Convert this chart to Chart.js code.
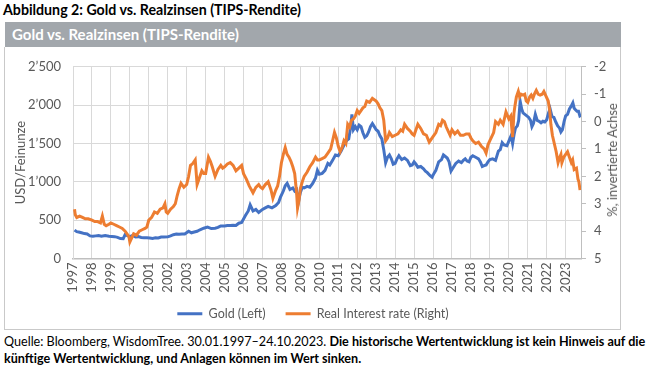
<!DOCTYPE html>
<html>
<head>
<meta charset="utf-8">
<script src="https://cdn.jsdelivr.net/npm/chart.js@4.4.0/dist/chart.umd.min.js"></script>
<style>
  html, body { margin:0; padding:0; background:#fff; }
  body { width:650px; height:368px; position:relative; overflow:hidden; font-family: Lato, "Liberation Sans", sans-serif; }
  #t1 { position:absolute; left:3px; top:1px; font-weight:bold; font-size:14.2px; color:#000; white-space:nowrap; }
  #banner { position:absolute; left:5px; top:22px; width:616px; height:25px; background:#a2a7ac; color:#fff; font-weight:bold; font-size:15px; line-height:25px; padding-left:7px; box-sizing:border-box; white-space:nowrap; }
  #box { position:absolute; left:4px; top:47px; width:617px; height:283px; border:1px solid #c9c9c9; border-top:none; box-sizing:border-box; }
  #wrap { position:absolute; left:5px; top:47px; width:616px; height:283px; }
  #rtitle { position:absolute; left:612px; top:160px; transform:translate(-50%,-50%) rotate(-90deg); font-size:13px; color:#595959; white-space:nowrap; }
  #foot { position:absolute; left:4px; top:333px; font-size:12.6px; line-height:17px; color:#000; white-space:nowrap; }
  #foot b { font-weight:bold; }
</style>
</head>
<body>
<div id="t1">Abbildung 2: Gold vs. Realzinsen (TIPS-Rendite)</div>
<div id="banner">Gold vs. Realzinsen (TIPS-Rendite)</div>
<div id="box"></div>
<div id="wrap"><canvas id="c" width="616" height="283"></canvas></div>
<div id="rtitle">%, invertierte Achse</div>
<div id="foot">Quelle: Bloomberg, WisdomTree. 30.01.1997–24.10.2023. <b>Die historische Wertentwicklung ist kein Hinweis auf die</b><br><b>künftige Wertentwicklung, und Anlagen können im Wert sinken.</b></div>
<script>
// ---- Data ----
const yearTicks = [1997,1998,1999,2000,2001,2002,2003,2004,2005,2006,2007,2008,2009,2010,2011,2012,2013,2014,2015,2016,2017,2018,2019,2020,2021,2022,2023];
const leftTicks = [0,500,1000,1500,2000,2500];
const rightTicks = [-2,-1,0,1,2,3,4,5];

const goldDates = [1997.08,1997.2,1997.3,1997.45,1997.6,1997.75,1997.9,1998.05,1998.2,1998.35,1998.5,1998.7,1998.9,1999.05,1999.2,1999.35,1999.5,1999.65,1999.75,1999.9,2000.0,2000.15,2000.3,2000.45,2000.6,2000.75,2000.9,2001.05,2001.2,2001.35,2001.5,2001.65,2001.8,2002.0,2002.15,2002.3,2002.45,2002.6,2002.75,2002.9,2003.1,2003.25,2003.4,2003.55,2003.7,2003.9,2004.1,2004.3,2004.5,2004.65,2004.8,2005.0,2005.15,2005.3,2005.45,2005.6,2005.75,2005.9,2006.1,2006.25,2006.35,2006.5,2006.65,2006.8,2007.0,2007.15,2007.3,2007.5,2007.7,2007.85,2007.95,2008.1,2008.2,2008.3,2008.45,2008.6,2008.7,2008.8,2008.9,2009.0,2009.1,2009.2,2009.35,2009.5,2009.65,2009.8,2009.9,2010.0,2010.15,2010.3,2010.45,2010.55,2010.7,2010.85,2011.0,2011.15,2011.3,2011.45,2011.55,2011.65,2011.72,2011.8,2011.9,2012.0,2012.1,2012.2,2012.3,2012.4,2012.5,2012.6,2012.7,2012.8,2012.9,2013.0,2013.1,2013.2,2013.3,2013.4,2013.5,2013.6,2013.7,2013.8,2013.9,2014.0,2014.1,2014.2,2014.35,2014.5,2014.65,2014.8,2014.9,2015.0,2015.1,2015.2,2015.35,2015.5,2015.6,2015.7,2015.85,2015.95,2016.05,2016.15,2016.3,2016.45,2016.55,2016.65,2016.75,2016.85,2016.95,2017.05,2017.2,2017.35,2017.5,2017.6,2017.7,2017.8,2017.9,2018.0,2018.1,2018.25,2018.4,2018.5,2018.6,2018.7,2018.8,2018.9,2019.0,2019.15,2019.3,2019.45,2019.55,2019.65,2019.75,2019.9,2020.05,2020.12,2020.2,2020.28,2020.35,2020.45,2020.52,2020.6,2020.68,2020.75,2020.85,2020.95,2021.05,2021.15,2021.22,2021.3,2021.4,2021.5,2021.6,2021.7,2021.8,2021.9,2022.0,2022.1,2022.18,2022.28,2022.38,2022.48,2022.58,2022.68,2022.75,2022.83,2022.92,2023.0,2023.1,2023.2,2023.3,2023.38,2023.45,2023.52,2023.6,2023.68,2023.75,2023.81];
const goldValues = [370,350,345,335,325,320,295,290,295,300,290,300,290,288,285,275,260,258,310,295,285,300,280,285,275,272,270,268,262,270,268,280,280,282,295,310,318,315,320,320,355,335,345,355,375,395,410,390,395,405,425,425,430,430,435,430,460,470,560,620,700,620,640,600,640,660,680,660,690,730,800,880,950,980,900,920,880,900,740,860,930,920,940,930,980,1050,1150,1100,1110,1150,1240,1220,1280,1350,1340,1400,1480,1540,1560,1700,1880,1680,1720,1680,1740,1720,1640,1580,1600,1650,1720,1760,1720,1680,1660,1600,1560,1420,1250,1320,1350,1300,1230,1240,1300,1340,1290,1310,1280,1210,1220,1260,1230,1190,1200,1170,1140,1120,1080,1060,1110,1150,1260,1290,1350,1330,1310,1260,1140,1180,1240,1270,1250,1280,1300,1270,1260,1320,1340,1320,1300,1260,1200,1210,1220,1260,1290,1300,1280,1400,1420,1510,1480,1470,1560,1600,1500,1620,1700,1730,1800,2050,1950,1900,1880,1860,1840,1800,1720,1760,1880,1800,1790,1770,1790,1780,1810,1900,1950,1850,1840,1780,1730,1700,1650,1680,1790,1860,1880,1950,1990,2030,1960,1940,1920,1920,1860,1870];

const realDates = [1997.08,1997.12,1997.2,1997.35,1997.5,1997.65,1997.8,1998.0,1998.15,1998.3,1998.45,1998.55,1998.65,1998.75,1998.9,1999.0,1999.15,1999.3,1999.45,1999.6,1999.75,1999.85,1999.95,2000.0,2000.1,2000.2,2000.35,2000.5,2000.65,2000.8,2000.9,2001.0,2001.15,2001.3,2001.45,2001.6,2001.75,2001.85,2001.92,2002.0,2002.15,2002.3,2002.4,2002.5,2002.6,2002.7,2002.85,2003.0,2003.1,2003.2,2003.3,2003.45,2003.55,2003.65,2003.8,2003.9,2004.0,2004.15,2004.25,2004.35,2004.5,2004.65,2004.8,2004.9,2005.0,2005.15,2005.3,2005.45,2005.6,2005.75,2005.9,2006.0,2006.15,2006.3,2006.5,2006.65,2006.8,2006.9,2007.0,2007.15,2007.3,2007.45,2007.55,2007.7,2007.8,2007.9,2008.0,2008.1,2008.2,2008.3,2008.4,2008.5,2008.6,2008.7,2008.8,2008.85,2008.92,2009.0,2009.1,2009.2,2009.35,2009.5,2009.65,2009.8,2009.9,2010.0,2010.15,2010.3,2010.45,2010.6,2010.7,2010.8,2010.9,2011.0,2011.1,2011.2,2011.3,2011.4,2011.5,2011.6,2011.7,2011.8,2011.9,2012.0,2012.1,2012.2,2012.3,2012.4,2012.5,2012.65,2012.8,2012.9,2013.0,2013.1,2013.2,2013.3,2013.4,2013.5,2013.6,2013.7,2013.85,2014.0,2014.15,2014.3,2014.4,2014.5,2014.65,2014.8,2014.9,2015.0,2015.1,2015.2,2015.35,2015.5,2015.65,2015.8,2015.9,2016.0,2016.15,2016.3,2016.4,2016.5,2016.6,2016.7,2016.8,2016.9,2017.0,2017.15,2017.3,2017.45,2017.6,2017.75,2017.9,2018.0,2018.1,2018.25,2018.4,2018.55,2018.7,2018.8,2018.9,2019.0,2019.1,2019.2,2019.3,2019.45,2019.55,2019.7,2019.85,2020.0,2020.1,2020.2,2020.27,2020.33,2020.4,2020.5,2020.57,2020.65,2020.75,2020.84,2020.92,2021.0,2021.1,2021.18,2021.27,2021.35,2021.45,2021.55,2021.65,2021.76,2021.85,2021.98,2022.08,2022.16,2022.22,2022.3,2022.4,2022.5,2022.6,2022.69,2022.75,2022.8,2022.9,2023.0,2023.1,2023.2,2023.3,2023.37,2023.45,2023.57,2023.65,2023.7,2023.76,2023.81];
const realValues = [3.2,3.4,3.5,3.45,3.5,3.55,3.55,3.6,3.65,3.65,3.7,3.45,3.75,3.8,3.75,3.7,3.75,3.8,3.85,3.9,4.0,4.1,4.2,4.4,4.25,4.1,4.15,4.0,3.95,3.9,3.85,3.6,3.5,3.3,3.35,3.2,3.15,3.0,3.3,3.35,3.2,3.1,3.0,2.7,2.45,2.25,2.4,2.3,2.0,1.6,1.55,1.4,2.3,2.1,1.8,1.9,1.9,1.3,1.45,1.65,2.0,1.75,1.6,1.7,1.65,1.55,1.5,1.6,1.8,1.7,1.6,1.9,2.1,2.35,2.6,2.4,2.3,2.4,2.45,2.3,2.2,2.5,2.8,2.5,2.35,2.0,1.5,1.2,0.95,1.2,1.3,1.45,1.65,1.9,2.6,3.15,2.9,2.45,2.2,2.0,1.85,1.65,1.5,1.3,1.4,1.4,1.35,1.3,1.15,1.0,0.7,0.4,0.6,0.9,1.1,0.95,0.7,0.8,0.1,0.2,-0.05,-0.1,-0.2,-0.4,-0.3,-0.4,-0.5,-0.55,-0.75,-0.7,-0.85,-0.8,-0.75,-0.65,-0.5,-0.4,-0.05,0.7,0.6,0.4,0.55,0.5,0.45,0.3,0.35,0.1,0.25,0.35,0.45,0.5,0.3,0.1,0.25,0.45,0.5,0.75,0.65,0.55,0.4,0.1,0.15,-0.05,0.0,0.2,0.35,0.5,0.3,0.45,0.35,0.5,0.5,0.45,0.45,0.6,0.7,0.8,0.75,0.9,1.0,1.15,0.85,0.7,0.55,0.4,0.0,0.1,-0.05,0.1,-0.35,-0.1,-0.2,0.57,-0.3,-0.6,-0.9,-1.1,-0.9,-1.0,-0.97,-1.0,-0.75,-0.7,-0.9,-0.97,-0.85,-1.0,-1.14,-1.0,-0.97,-1.0,-1.1,-0.9,-0.75,-0.4,0.1,0.5,0.8,1.1,1.5,1.3,1.2,1.5,1.3,1.2,1.1,1.3,1.5,1.4,1.75,1.7,2.1,2.2,2.5];

const fmtThousands = v => String(v).replace(/\B(?=(\d{3})+(?!\d))/g, '\u2019');
const tickFont = { family: 'Lato, "Liberation Sans", sans-serif', size: 13 };
const legendFont = { family: 'Lato, "Liberation Sans", sans-serif', size: 12.5 };
const grey = '#595959';

// let the rotated year labels draw below the (compact) x-axis box
const unclipXLabels = {
  id: 'unclipXLabels',
  beforeDraw(chart) { chart.scales.x._computeLabelArea = () => undefined; }
};

new Chart(document.getElementById('c'), {
  type: 'line',
  data: {
    datasets: [
      { label: 'Gold (Left)', data: goldDates.map((d,i)=>({x:d, y:goldValues[i]})), borderColor:'#4472C4', backgroundColor:'#4472C4', borderWidth:3, pointRadius:0, tension:0, yAxisID:'y', order:2, pointStyle:'line' },
      { label: 'Real Interest rate (Right)', data: realDates.map((d,i)=>({x:d, y:realValues[i]})), borderColor:'#ED7D31', backgroundColor:'#ED7D31', borderWidth:3, pointRadius:0, tension:0, yAxisID:'y1', order:1, pointStyle:'line' }
    ]
  },
  plugins: [unclipXLabels],
  options: {
    responsive:false, animation:false,
    layout: { padding: { top:16, left:0, right:0, bottom:0 } },
    plugins: {
      legend: { position:'bottom', labels: { usePointStyle:true, pointStyleWidth:25, boxHeight:12, padding:20, color:grey, font:legendFont, sort:(a,b)=>a.datasetIndex-b.datasetIndex } },
      tooltip: { enabled:false }
    },
    scales: {
      x: {
        type:'linear', min:1997, max:2023.81,
        afterBuildTicks: s => { s.ticks = yearTicks.map(v=>({value:v})); },
        afterFit: s => { s.height = 29; },
        ticks: { autoSkip:false, minRotation:90, maxRotation:90, padding:4, color:grey, font:tickFont, callback: v => String(v) },
        grid: { color:'#d9d9d9', drawTicks:false },
        border: { color:'#bfbfbf', width:1.5 }
      },
      y: {
        position:'left', min:0, max:2500,
        afterBuildTicks: s => { s.ticks = leftTicks.map(v=>({value:v})); },
        afterFit: s => { s.width = 68; },
        ticks: { padding:12, color:grey, font:tickFont, callback: v => fmtThousands(v) },
        grid: { color:'#d9d9d9', drawTicks:false },
        border: { color:'#d9d9d9' },
        title: { display:true, text:'USD/Feinunze', color:grey, font:tickFont, padding:{top:8,bottom:0} }
      },
      y1: {
        position:'right', min:-2, max:5, reverse:true,
        afterBuildTicks: s => { s.ticks = rightTicks.map(v=>({value:v})); },
        afterFit: s => { s.width = 40; },
        ticks: { padding:8, color:grey, font:tickFont, callback: v => String(v) },
        grid: { drawOnChartArea:false, drawTicks:true, tickLength:5, color:'#bfbfbf' },
        border: { color:'#bfbfbf' }
      }
    }
  }
});
</script>
</body>
</html>
